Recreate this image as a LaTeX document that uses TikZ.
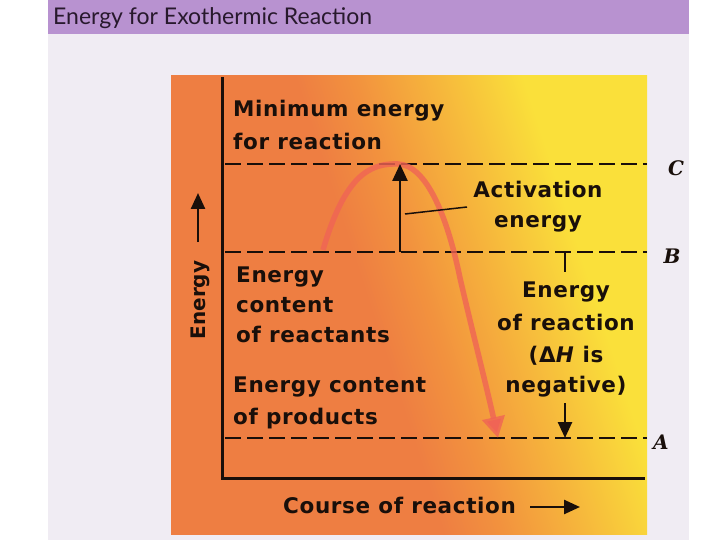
\documentclass[tikz,border=0pt]{standalone}
\usepackage{fontspec}
\setmainfont{DejaVu Sans}[LetterSpace=3]
\newfontfamily\plainsans{DejaVu Sans}
\newfontfamily\titlefont{Lato}
\newfontfamily\handfont{DejaVu Serif}
\usetikzlibrary{arrows.meta}
\definecolor{band}{RGB}{184,146,208}
\definecolor{paper}{RGB}{240,236,243}
\definecolor{org}{RGB}{238,126,66}
\definecolor{orgmid}{RGB}{242,146,62}
\definecolor{org2}{RGB}{246,182,60}
\definecolor{yel}{RGB}{250,224,58}
\definecolor{curvec}{RGB}{240,100,85}
\definecolor{ink}{RGB}{25,15,10}
\definecolor{titleink}{RGB}{40,25,45}
\pgfdeclarehorizontalshading{exo}{100bp}{color(0bp)=(org); color(25bp)=(org); color(46bp)=(org); color(52bp)=(orgmid); color(60bp)=(org2); color(69bp)=(yel); color(100bp)=(yel)}
\tikzset{
  lbl/.style={font=\bfseries\fontsize{21.5}{30}\selectfont, text=ink, inner sep=0pt},
  hand/.style={font=\handfont\bfseries\itshape\fontsize{20}{24}\selectfont, text=ink, inner sep=0pt},
  axisline/.style={draw=ink, line width=3pt},
  level/.style={draw=ink, line width=2.2pt, dash pattern=on 16pt off 6pt},
  blkarrow/.style={draw=ink, line width=2.5pt, -{Triangle[length=17pt,width=15pt]}},
  rxn/.style={draw=curvec, draw opacity=0.8, line width=5.5pt, -{Triangle[length=21pt,width=22pt]}},
  thinline/.style={draw=ink, line width=1.5pt}
}
\begin{document}
\begin{tikzpicture}[x=1pt,y=-1pt]
\useasboundingbox (0,0) rectangle (720,540);
\fill[white] (0,0) rectangle (720,540);
\fill[paper] (48,0) rectangle (689,540);
\fill[band] (48,0) rectangle (689,34);
\node[font=\titlefont\fontsize{23}{27}\selectfont, text=titleink, inner sep=0pt, anchor=base west] (title) at (53,25) {Energy for Exothermic Reaction};

\shade[shading=exo, shading angle=18] (171,76) rectangle (647,534);

% axes
\coordinate (yTop) at (222,77);
\coordinate (origin) at (222,478);
\coordinate (xEnd) at (645,478);
\draw[axisline] (yTop) -- (origin) -- (xEnd);

% levels
\coordinate (cL) at (225,164); \coordinate (cR) at (647,164);
\coordinate (bL) at (225,252); \coordinate (bR) at (647,252);
\coordinate (aL) at (225,438); \coordinate (aR) at (647,438);
\draw[level] (cL) -- (cR);
\draw[level] (bL) -- (bR);
\draw[level] (aL) -- (aR);

% reaction curve
\coordinate (r0) at (323,250);
\coordinate (rPeak) at (398,164);
\coordinate (r1) at (460,278);
\coordinate (rEnd) at (498,438);
\draw[rxn] (r0) .. controls (345,175) and (370,163) .. (rPeak) .. controls (426,165) and (447,215) .. (r1) .. controls (472,330) and (485,380) .. (rEnd);

% activation energy arrow
\coordinate (actBot) at (400,252);
\coordinate (actTop) at (400,164);
\draw[blkarrow] (actBot) -- (actTop);
\coordinate (ldA) at (405,214);
\coordinate (ldB) at (467,207);
\draw[thinline] (ldA) -- (ldB);

% energy of reaction marks
\coordinate (tkTop) at (565,252);
\coordinate (tkBot) at (565,272);
\draw[draw=ink, line width=2pt] (tkTop) -- (tkBot);
\coordinate (dnTop) at (565,403);
\coordinate (dnTip) at (565,438);
\draw[blkarrow, -{Triangle[length=16pt,width=14pt]}] (dnTop) -- (dnTip);

% texts
\node[lbl, anchor=base west] (min1) at (233,117) {Minimum energy};
\node[lbl, anchor=base west] (min2) at (233,150) {for reaction};
\node[lbl, anchor=base] (act1) at (538,198) {Activation};
\node[lbl, anchor=base] (act2) at (538,227) {energy};
\node[lbl, anchor=base west] (rea1) at (236,282) {Energy};
\node[lbl, anchor=base west] (rea2) at (236,312) {content};
\node[lbl, anchor=base west] (rea3) at (236,342) {of reactants};
\node[lbl, anchor=base west] (pro1) at (233,392) {Energy content};
\node[lbl, anchor=base west] (pro2) at (233,424) {of products};
\node[lbl, anchor=base] (dh1) at (566,297) {Energy};
\node[lbl, anchor=base] (dh2) at (566,330) {of reaction};
\node[lbl, anchor=base] (dh3) at (566,362) {(Δ\textit{H} is};
\node[lbl, anchor=base] (dh4) at (566,392) {negative)};

% axis labels
\node[lbl, font=\plainsans\bfseries\fontsize{20}{24}\selectfont, rotate=90, anchor=base] (ylab) at (205,300) {Energy};
\coordinate (yaBot) at (198,242);
\coordinate (yaTop) at (198,193);
\draw[blkarrow, -{Triangle[length=16pt,width=14pt]}] (yaBot) -- (yaTop);
\node[lbl, anchor=base west] (xlab) at (283,513) {Course of reaction};
\coordinate (xaL) at (530,507);
\coordinate (xaR) at (580,507);
\draw[blkarrow, -{Triangle[length=16pt,width=14pt]}] (xaL) -- (xaR);

% handwritten letters
\node[hand] (C) at (676,168) {C};
\node[hand] (B) at (672,256) {B};
\node[hand] (A) at (661,442) {A};
\end{tikzpicture}
\end{document}
